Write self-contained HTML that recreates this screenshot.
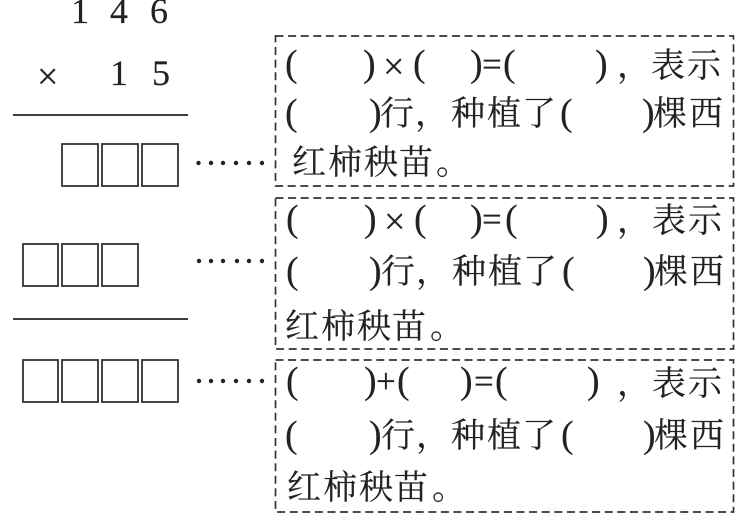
<!DOCTYPE html>
<html lang="zh">
<head>
<meta charset="utf-8">
<style>
html,body{margin:0;padding:0;background:#fff;width:741px;height:520px;overflow:hidden}
svg{display:block}
text{stroke:#222;stroke-width:.15px}
.l{font-family:"Liberation Serif",serif;font-size:38px;fill:#222}
.x{font-family:"Liberation Serif",serif;font-size:38px;fill:#222}
.o{font-family:"Liberation Serif",serif;font-size:35px;fill:#222}
.c{font-family:"Liberation Serif","Noto Serif CJK SC",serif;font-size:34px;fill:#222}
.n{font-family:"Liberation Serif",serif;font-size:36px;fill:#222}
.b{fill:none;stroke:#333;stroke-width:1.7;stroke-dasharray:8 4.6}
.s{fill:none;stroke:#333;stroke-width:1.8}
.h{stroke:#222;stroke-width:1.8}
.d{fill:#222}
</style>
</head>
<body>
<svg width="741" height="520" viewBox="0 0 741 520" xmlns="http://www.w3.org/2000/svg">
<!-- left calculation -->
<text class="n" x="71 110 150" y="23">146</text>
<text class="n" x="110 152" y="85">15</text>
<text class="x" x="37" y="89">×</text>
<line class="h" x1="13" y1="115" x2="188" y2="115"/>
<line class="h" x1="13" y1="319" x2="188" y2="319"/>
<rect class="s" x="62" y="144" width="36" height="42"/><rect class="s" x="102" y="144" width="36" height="42"/><rect class="s" x="142" y="144" width="36" height="42"/>
<rect class="s" x="23" y="244" width="35" height="42"/><rect class="s" x="62" y="244" width="36" height="42"/><rect class="s" x="102" y="244" width="36" height="42"/>
<rect class="s" x="23" y="360" width="35" height="42"/><rect class="s" x="62" y="360" width="36" height="42"/><rect class="s" x="102" y="360" width="36" height="42"/><rect class="s" x="142" y="360" width="36" height="42"/>
<!-- dots -->
<g class="d">
<circle cx="198.500" cy="163" r="2.200"/><circle cx="211" cy="163" r="2.200"/><circle cx="223" cy="163" r="2.200"/><circle cx="236" cy="163" r="2.200"/><circle cx="249" cy="163" r="2.200"/><circle cx="262" cy="163" r="2.200"/>
<circle cx="199" cy="261" r="2.200"/><circle cx="211" cy="261" r="2.200"/><circle cx="223" cy="261" r="2.200"/><circle cx="237" cy="261" r="2.200"/><circle cx="249" cy="261" r="2.200"/><circle cx="262" cy="261" r="2.200"/>
<circle cx="199" cy="381" r="2.200"/><circle cx="211" cy="381" r="2.200"/><circle cx="223" cy="381" r="2.200"/><circle cx="236" cy="381" r="2.200"/><circle cx="249" cy="381" r="2.200"/><circle cx="262" cy="381" r="2.200"/>
</g>
<!-- boxes -->
<rect class="b" x="275.500" y="36" width="458" height="150"/>
<rect class="b" x="275.500" y="198" width="458" height="151"/>
<rect class="b" x="275.500" y="360" width="458" height="152"/>
<!-- box 1 -->
<text class="l" x="285 363" y="76">()</text>
<text class="x" x="383" y="79">×</text>
<text class="l" x="413 470" y="76">()</text>
<text class="o" x="482" y="76">=</text>
<text class="l" x="503 595" y="76">()</text>
<text class="c" x="617 651 687" y="77">，表示</text>
<text class="l" x="285 369" y="125">()</text>
<text class="c" x="380 415 451 487 522" y="125">行，种植了</text>
<text class="l" x="560 642" y="125">()</text>
<text class="c" x="653 689" y="125">棵西</text>
<text class="c" x="292 328 364 399 436" y="174">红柿秧苗。</text>
<!-- box 2 -->
<text class="l" x="286 364" y="231">()</text>
<text class="x" x="384" y="234">×</text>
<text class="l" x="414 470" y="231">()</text>
<text class="o" x="482" y="231">=</text>
<text class="l" x="505 596" y="231">()</text>
<text class="c" x="617 652 688" y="232">，表示</text>
<text class="l" x="286 369" y="283">()</text>
<text class="c" x="381 416 452 488 523" y="283">行，种植了</text>
<text class="l" x="562 643" y="283">()</text>
<text class="c" x="654 690" y="283">棵西</text>
<text class="c" x="285 321 357 392 430" y="338">红柿秧苗。</text>
<!-- box 3 -->
<text class="l" x="286 364" y="393">()</text>
<text class="o" x="376" y="393">+</text>
<text class="l" x="397 460" y="393">()</text>
<text class="o" x="474" y="393">=</text>
<text class="l" x="495 587" y="393">()</text>
<text class="c" x="617 652 688" y="395">，表示</text>
<text class="l" x="285 369" y="447">()</text>
<text class="c" x="381 416 451 487 522" y="447">行，种植了</text>
<text class="l" x="561 643" y="447">()</text>
<text class="c" x="654 690" y="447">棵西</text>
<text class="c" x="287 323 359 394 432" y="499">红柿秧苗。</text>
</svg>
</body>
</html>
